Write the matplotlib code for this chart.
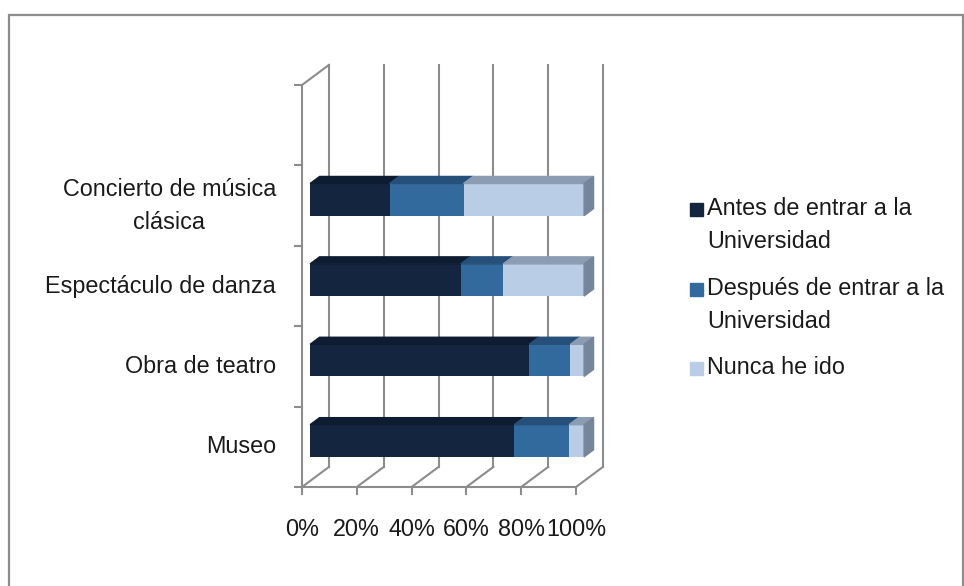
import matplotlib.pyplot as plt
from matplotlib.patches import Polygon, Rectangle

# datos (porcentajes)
categorias = ["Museo", "Obra de teatro", "Espectáculo de danza", "Concierto de música\nclásica"]
antes = [74.5, 80, 55, 29]
despues = [20, 15, 15.5, 27]
nunca = [5.5, 5, 29.5, 44]
series = ["Antes de entrar a la\nUniversidad", "Después de entrar a la\nUniversidad", "Nunca he ido"]
ticks_x = [0, 20, 40, 60, 80, 100]

col_front = ["#13253f", "#336a9d", "#b9cde6"]
col_top = ["#0e1c31", "#26507a", "#8c9db3"]
col_side = "#76859a"
gris = "#8c8c8c"

W, H = 964, 586
fig = plt.figure(figsize=(W / 100, H / 100), dpi=100)
plt.rcParams['font.family'] = ['Liberation Sans', 'DejaVu Sans']
fs = 16.8
ls = 1.56

# ejes: zona frontal del grafico 3D
ax = fig.add_axes([302 / W, 1 - 487 / H, 274 / W, 402 / H])
ax.set_xlim(0, 100)
ax.set_ylim(-0.5, 4.5)
ax.axis('off')

# profundidad (en unidades de datos)
Dx, Dy = 9.85, 0.25

# paredes y rejilla
for x in ticks_x:
    ax.plot([x + Dx, x + Dx], [-0.5 + Dy, 4.5 + Dy], color=gris, lw=1.5, clip_on=False, zorder=1)
    ax.plot([x, x + Dx], [-0.5, -0.5 + Dy], color=gris, lw=1.5, clip_on=False, zorder=1)
    ax.plot([x, x], [-0.5, -0.59], color=gris, lw=1.5, clip_on=False, zorder=1)
ax.plot([0, 100], [-0.5, -0.5], color=gris, lw=1.5, clip_on=False, zorder=1)
ax.plot([0, 0], [-0.5, 4.5], color=gris, lw=1.5, clip_on=False, zorder=1)
ax.plot([0, Dx], [4.5, 4.5 + Dy], color=gris, lw=1.5, clip_on=False, zorder=1)
for k in range(6):
    ax.plot([-2.6, 0], [k - 0.5, k - 0.5], color=gris, lw=1.5, clip_on=False, zorder=1)

# barras apiladas con caras 3D
d0, d1 = 0.3, 0.65
ox, oy = d0 * Dx, d0 * Dy
ddx, ddy = (d1 - d0) * Dx, (d1 - d0) * Dy
hb = 0.4
valores = [antes, despues, nunca]
for i in range(len(categorias)):
    izq = 0
    y = i + oy
    for s in range(3):
        v = valores[s][i]
        ax.barh(y, v, left=izq + ox, height=hb, color=col_front[s], zorder=3, clip_on=False)
        yt = y + hb / 2
        ax.add_patch(Polygon([(izq + ox, yt), (izq + v + ox, yt), (izq + v + ox + ddx, yt + ddy),
                              (izq + ox + ddx, yt + ddy)], closed=True, color=col_top[s],
                             zorder=3, clip_on=False))
        izq += v
    yb = y - hb / 2
    ax.add_patch(Polygon([(izq + ox, yb), (izq + ox, yt), (izq + ox + ddx, yt + ddy),
                          (izq + ox + ddx, yb + ddy)], closed=True, color=col_side,
                         zorder=3, clip_on=False))
    ax.text(-9.5, i, categorias[i], ha='right', va='center', multialignment='center',
            fontsize=fs, color="#1a1a1a", linespacing=ls)

for x in ticks_x:
    ax.text(x, -1.03, f"{x}%", ha='center', va='center', fontsize=fs, color="#1a1a1a")

# leyenda
cuadro_y = [209, 289, 368]
texto_y = [225, 305, 368]
for s in range(3):
    fig.add_artist(Rectangle((690 / W, 1 - (cuadro_y[s] + 6.5) / H), 13 / W, 13 / H,
                             color=col_front[s], transform=fig.transFigure))
    fig.text(707 / W, 1 - texto_y[s] / H, series[s], ha='left', va='center', fontsize=fs,
             color="#1a1a1a", linespacing=ls)

# marco exterior
fig.add_artist(Rectangle((9 / W, -0.05), 954 / W, 1.05 - 15 / H, fill=False, edgecolor=gris,
                         lw=1.6, transform=fig.transFigure))

fig.savefig("out.png", dpi=100)
